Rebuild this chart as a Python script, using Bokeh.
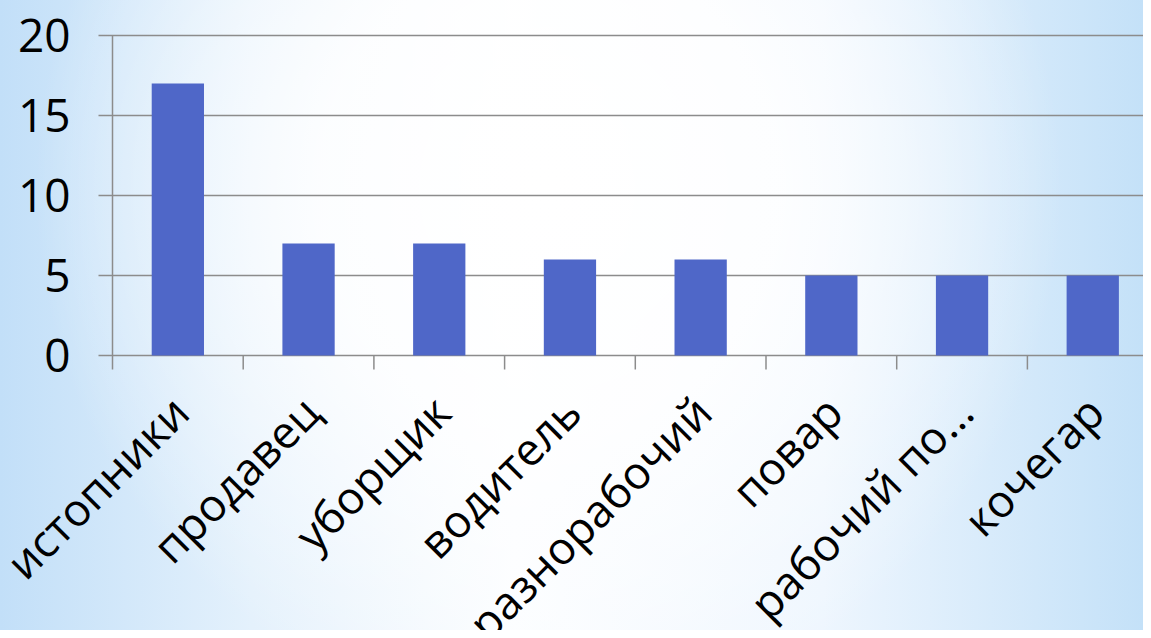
import math
from bokeh.plotting import figure
from bokeh.models import ColumnDataSource, Range1d
from bokeh.core.properties import value
from bokeh.embed import file_html
from bokeh.resources import INLINE

categories = ["истопники", "продавец", "уборщик", "водитель", "разнорабочий",
              "повар", "рабочий по…", "кочегар"]
values = [17, 7, 7, 6, 6, 5, 5, 5]
y_ticks = [0, 5, 10, 15, 20]
y_tick_labels = ["0", "5", "10", "15", "20"]

centers = [i + 0.5 for i in range(len(categories))]
bounds = [i for i in range(len(categories) + 1)]

W, H = 1143, 630
axis_x_px, top_px = 112, 35          # where the value axis and the top gridline sit
px_per_unit = 16.0
px_per_cat = 130.7
x_min = -axis_x_px / px_per_cat
x_max = x_min + W / px_per_cat
y_max = y_ticks[-1] + top_px / px_per_unit
y_min = y_max - H / px_per_unit
tick_y = 14 / px_per_unit
tick_x = 14 / px_per_cat
label_gap_x = 42 / px_per_cat
GRID = "#8c8c8c"

src = ColumnDataSource(dict(x=centers, top=values, label=categories,
                            base=[0] * len(categories)))
tsrc = ColumnDataSource(dict(x=bounds, y0=[0] * len(bounds), y1=[-tick_y] * len(bounds)))
gsrc = ColumnDataSource(dict(y=y_ticks, lab=y_tick_labels,
                             x0=[-tick_x] * len(y_ticks), x1=[x_max] * len(y_ticks),
                             xl=[-label_gap_x] * len(y_ticks)))

p = figure(width=W, height=H, output_backend="svg", toolbar_location=None,
           x_range=Range1d(x_min, x_max), y_range=Range1d(y_min, y_max),
           min_border=0)
p.styles = {"background-image":
            "radial-gradient(ellipse 45% 85% at 48% 30%, rgba(255,255,255,1) 0%, "
            "rgba(255,255,255,0.85) 45%, rgba(255,255,255,0) 100%), "
            "linear-gradient(90deg, #c2dff8 0%, #e4f1fc 22%, #fbfdff 45%, #eef6fe 72%, #c4e1f8 100%)"}
p.border_fill_color = None
p.background_fill_color = None
p.outline_line_color = None
p.xaxis.visible = False
p.yaxis.visible = False
p.xgrid.visible = False
p.ygrid.visible = False

# gridlines (with their outer tick marks) and value labels
p.segment(x0="x0", y0="y", x1="x1", y1="y", source=gsrc, line_color=GRID, line_width=1.5)
p.text(x="xl", y="y", text="lab", source=gsrc, text_align="right", text_baseline="middle",
       text_font=value("Open Sans"), text_font_size="46px", text_color="#000000")

p.vbar(x="x", top="top", width=0.4, bottom=0, source=src, fill_color="#4F67C8", line_color=None)

# axis lines and category tick marks
p.segment(x0=0, y0=0, x1=0, y1=y_ticks[-1], line_color=GRID, line_width=1.5)
p.segment(x0="x", y0="y0", x1="x", y1="y1", source=tsrc, line_color=GRID, line_width=1.5)

# category labels
p.text(x="x", y="base", text="label", source=src, angle=math.pi / 4,
       x_offset=2, y_offset=48, text_align="right", text_baseline="middle",
       text_font=value("Open Sans"), text_font_size="45px", text_color="#000000")

open("out.html", "w").write(file_html(p, INLINE))
